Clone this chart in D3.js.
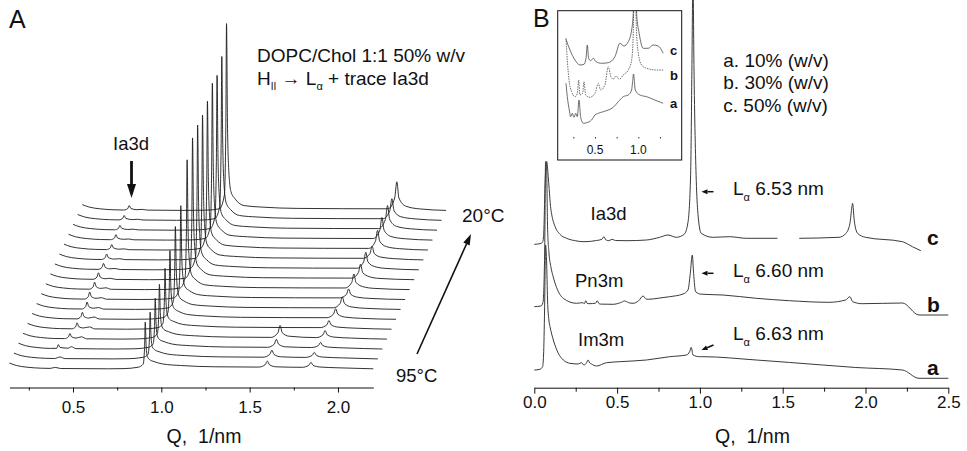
<!DOCTYPE html>
<html><head><meta charset="utf-8">
<script src="https://cdn.jsdelivr.net/npm/d3@7"></script>
<style>
html,body{margin:0;padding:0;background:#fff;}
svg{display:block;}
</style></head><body>
<svg id="chart" width="967" height="451"></svg>
<script>
// ---------------- DATA ----------------
// Panel A: stacked SAXS traces, bottom (95°C) to top (20°C); [Q (1/nm), intensity (a.u.)]
const tA00 = [[0.14,7],[0.18,4.5],[0.24,2.8],[0.32,1.8],[0.37,1.6],[0.40,2.6],[0.43,1.5],[0.70,1.2],[0.789,1.4],[0.869,2.8],[0.897,5.8],[0.905,21.6],[0.909,48],[0.914,24],[0.921,13.6],[0.934,10.4],[0.959,8.4],[1.009,6],[1.109,4.5],[1.309,3.2],[1.55,2.9],[1.588,5.3],[1.60,8.9],[1.612,5.3],[1.65,3.2],[1.797,2.7],[1.835,4.7],[1.847,7.7],[1.859,4.7],[1.897,3.0],[2.0,2.2],[2.2,1.2]];
const tA01 = [[0.14,7],[0.18,4.5],[0.24,2.8],[0.32,1.8],[0.37,1.6],[0.40,3.1],[0.43,1.5],[0.70,1.2],[0.791,1.4],[0.871,2.8],[0.899,5.8],[0.907,21.6],[0.911,48],[0.916,24],[0.923,13.6],[0.936,10.4],[0.961,8.4],[1.011,6],[1.111,4.5],[1.311,3.2],[1.55,2.9],[1.588,5.7],[1.60,9.9],[1.612,5.7],[1.65,3.3],[1.79,2.7],[1.828,4.7],[1.84,7.7],[1.852,4.7],[1.89,3.0],[2.0,2.2],[2.2,1.2]];
const tA02 = [[0.14,7],[0.18,4.5],[0.24,2.8],[0.32,1.8],[0.357,1.9],[0.365,5.6],[0.375,2.8],[0.42,2.0],[0.44,3.5],[0.465,1.6],[0.70,1.2],[0.794,1.4],[0.874,2.8],[0.902,6.2],[0.91,23.4],[0.914,52],[0.919,26],[0.926,14.4],[0.939,10.6],[0.964,8.6],[1.014,6],[1.114,4.5],[1.314,3.2],[1.55,2.9],[1.588,6.1],[1.60,10.9],[1.612,6.1],[1.65,3.4],[1.80,2.7],[1.838,4.7],[1.85,7.7],[1.862,4.7],[1.90,3.0],[2.0,2.2],[2.2,1.2]];
const tA03 = [[0.14,7],[0.18,4.5],[0.24,2.8],[0.32,1.8],[0.375,1.7],[0.397,3.4],[0.405,6.7],[0.415,3.4],[0.44,2.2],[0.47,3.5],[0.50,1.5],[0.70,1.2],[0.792,1.4],[0.872,2.8],[0.90,6.5],[0.908,25.2],[0.912,56],[0.917,28],[0.924,15.3],[0.937,10.9],[0.962,8.7],[1.012,6],[1.112,4.5],[1.312,3.2],[1.545,2.9],[1.583,7.7],[1.595,14.9],[1.607,7.7],[1.645,4.1],[1.80,2.7],[1.838,5.5],[1.85,9.7],[1.862,5.5],[1.90,3.2],[2.0,2.2],[2.2,1.2]];
const tA04 = [[0.14,7],[0.18,4.5],[0.24,2.8],[0.32,1.8],[0.39,1.6],[0.412,3.7],[0.42,7.6],[0.43,3.7],[0.455,2.4],[0.49,3.5],[0.52,1.5],[0.70,1.2],[0.798,1.4],[0.878,2.8],[0.906,7.0],[0.914,27.9],[0.918,62],[0.923,31],[0.93,16.6],[0.943,11.3],[0.968,8.9],[1.018,6],[1.118,4.5],[1.318,3.2],[1.796,2.8],[1.834,5.6],[1.846,9.8],[1.858,5.6],[1.896,3.3],[2.0,2.2],[2.2,1.2]];
const tA05 = [[0.14,7],[0.18,4.5],[0.24,2.8],[0.32,1.8],[0.394,1.6],[0.416,3.9],[0.424,8.1],[0.434,3.9],[0.46,2.4],[0.49,3.5],[0.52,1.5],[0.70,1.2],[0.80,1.4],[0.88,2.8],[0.908,7.6],[0.916,31.5],[0.92,70],[0.925,35],[0.932,18.4],[0.945,11.9],[0.97,9.1],[1.02,6],[1.12,4.5],[1.32,3.2],[1.808,2.8],[1.846,6.4],[1.858,11.8],[1.87,6.4],[1.908,3.5],[2.0,2.2],[2.2,1.2]];
const tA06 = [[0.14,7],[0.18,4.5],[0.24,2.8],[0.32,1.8],[0.395,1.6],[0.417,4.0],[0.425,8.6],[0.435,4.0],[0.46,2.4],[0.49,3.0],[0.52,1.5],[0.70,1.2],[0.805,1.4],[0.885,2.8],[0.913,8.7],[0.921,37.8],[0.925,84],[0.93,42],[0.937,21.5],[0.95,12.9],[0.975,9.5],[1.025,6],[1.125,4.5],[1.325,3.2],[1.82,2.8],[1.858,7.2],[1.87,13.8],[1.882,7.2],[1.92,3.7],[2.0,2.3],[2.2,1.2]];
const tA07 = [[0.14,7],[0.18,4.5],[0.24,2.8],[0.32,1.8],[0.384,1.6],[0.406,4.0],[0.414,8.6],[0.424,4.0],[0.45,2.4],[0.48,3.0],[0.51,1.5],[0.70,1.2],[0.81,1.4],[0.89,2.8],[0.918,9.6],[0.926,42.8],[0.93,95],[0.935,47.5],[0.942,23.9],[0.955,13.7],[0.98,9.9],[1.03,6],[1.13,4.5],[1.33,3.2],[1.83,2.8],[1.868,6.4],[1.88,11.8],[1.892,6.4],[1.93,3.5],[2.0,2.3],[2.2,1.2]];
const tA08 = [[0.14,7],[0.18,4.5],[0.24,2.8],[0.32,1.8],[0.386,1.6],[0.408,4.0],[0.416,8.6],[0.426,4.0],[0.45,2.4],[0.48,3.0],[0.51,1.5],[0.70,1.2],[0.82,1.4],[0.90,2.8],[0.928,12.5],[0.936,59],[0.94,131],[0.945,65.5],[0.952,31.8],[0.965,16.2],[0.99,10.9],[1.04,6],[1.14,4.5],[1.34,3.2],[1.834,2.8],[1.872,8.4],[1.884,16.8],[1.896,8.4],[1.934,4.2],[2.0,2.4],[2.2,1.2]];
const tA09 = [[0.14,7],[0.18,4.5],[0.24,2.8],[0.32,1.8],[0.382,1.6],[0.404,3.9],[0.412,8.1],[0.422,3.9],[0.45,2.2],[0.48,2.6],[0.51,1.5],[0.70,1.2],[0.825,1.4],[0.905,2.8],[0.933,13.4],[0.941,64.4],[0.945,143],[0.95,71.5],[0.957,34.5],[0.97,17],[0.995,11.3],[1.045,6],[1.145,4.5],[1.345,3.2],[1.846,2.8],[1.884,8.4],[1.896,16.8],[1.908,8.4],[1.946,4.2],[2.0,2.5],[2.2,1.2]];
const tA10 = [[0.14,7],[0.18,4.5],[0.24,2.8],[0.32,1.8],[0.385,1.6],[0.407,3.7],[0.415,7.6],[0.425,3.7],[0.45,2.2],[0.48,2.5],[0.51,1.5],[0.70,1.2],[0.828,1.4],[0.908,2.8],[0.936,13.7],[0.944,65.7],[0.948,146],[0.953,73],[0.96,35.1],[0.973,17.2],[0.998,11.4],[1.048,6],[1.148,4.5],[1.348,3.2],[1.85,2.8],[1.888,9.2],[1.90,18.8],[1.912,9.2],[1.95,4.4],[2.02,2.5],[2.2,1.2]];
const tA11 = [[0.14,7],[0.18,4.5],[0.24,2.8],[0.32,1.8],[0.377,1.6],[0.399,3.5],[0.407,7.1],[0.417,3.5],[0.45,2.0],[0.48,2.4],[0.51,1.5],[0.70,1.2],[0.83,1.4],[0.91,2.8],[0.938,13.7],[0.946,65.7],[0.95,146],[0.955,73],[0.962,35.1],[0.975,17.2],[1.0,11.4],[1.05,6],[1.15,4.5],[1.35,3.2],[1.86,2.8],[1.898,7.6],[1.91,14.8],[1.922,7.6],[1.96,4.0],[2.03,2.5],[2.2,1.2]];
const tA12 = [[0.14,7],[0.18,4.5],[0.24,2.8],[0.32,1.8],[0.38,1.6],[0.402,3.3],[0.41,6.6],[0.42,3.3],[0.45,2.0],[0.48,2.3],[0.51,1.5],[0.70,1.2],[0.832,1.4],[0.912,2.8],[0.94,14],[0.948,67.5],[0.952,150],[0.957,75],[0.964,36],[0.977,17.5],[1.002,11.5],[1.052,6],[1.152,4.5],[1.352,3.2],[1.865,2.8],[1.903,10],[1.915,20.8],[1.927,10],[1.965,4.6],[2.04,2.5],[2.2,1.2]];
const tA13 = [[0.14,7],[0.18,4.5],[0.24,2.8],[0.32,1.8],[0.378,1.6],[0.40,3.3],[0.408,6.6],[0.418,3.3],[0.45,2.0],[0.48,2.3],[0.51,1.5],[0.70,1.2],[0.834,1.4],[0.914,2.8],[0.942,14.6],[0.95,71.1],[0.954,158],[0.959,79],[0.966,37.8],[0.979,18.1],[1.004,11.7],[1.054,6],[1.154,4.5],[1.354,3.2],[1.864,2.8],[1.902,11.2],[1.914,23.8],[1.926,11.2],[1.964,4.9],[2.04,2.6],[2.2,1.2]];
const tA14 = [[0.14,7],[0.18,4.5],[0.24,2.8],[0.32,1.8],[0.375,1.6],[0.397,3.1],[0.405,6.1],[0.415,3.1],[0.45,1.9],[0.48,2.2],[0.51,1.5],[0.70,1.2],[0.835,1.4],[0.915,2.8],[0.943,14.5],[0.951,70.2],[0.955,156],[0.96,78],[0.967,37.3],[0.98,17.9],[1.005,11.7],[1.055,6],[1.155,4.5],[1.355,3.2],[1.87,2.8],[1.908,12],[1.92,25.8],[1.932,12],[1.97,5.1],[2.05,2.6],[2.2,1.2]];
const tA15 = [[0.14,7],[0.18,4.5],[0.24,2.8],[0.32,1.8],[0.373,1.6],[0.395,3.1],[0.403,6.1],[0.413,3.1],[0.45,1.9],[0.48,2.2],[0.51,1.5],[0.70,1.2],[0.836,1.4],[0.916,2.8],[0.944,15],[0.952,73.4],[0.956,165],[0.961,82.5],[0.968,38.9],[0.981,18.4],[1.006,11.9],[1.056,6],[1.156,4.5],[1.356,3.2],[1.869,2.8],[1.907,10.8],[1.919,22.8],[1.931,10.8],[1.969,4.8],[2.05,2.6],[2.2,1.2]];
const tA16 = [[0.14,7],[0.18,4.5],[0.24,2.8],[0.32,1.8],[0.376,1.6],[0.398,3.1],[0.406,6.1],[0.416,3.1],[0.45,1.9],[0.48,2.2],[0.51,1.5],[0.70,1.2],[0.837,1.4],[0.917,2.8],[0.945,16.8],[0.953,84],[0.957,188],[0.962,94],[0.969,44],[0.982,20],[1.007,12.4],[1.057,6],[1.157,4.5],[1.357,3.2],[1.871,2.8],[1.909,13.6],[1.921,29.8],[1.933,13.6],[1.971,5.5],[2.05,2.7],[2.2,1.2]];
const tracesA = [tA00,tA01,tA02,tA03,tA04,tA05,tA06,tA07,tA08,tA09,tA10,tA11,tA12,tA13,tA14,tA15,tA16];

// Panel B: three concentrations, intensity relative to each trace's start; null = gap in trace
const traceBa = [[0,0],[0.034,0.7],[0.05,3.3],[0.056,15],[0.062,60],[0.068,125],[0.074,110],[0.08,70],[0.088,50],[0.095,43.3],[0.115,30],[0.145,16.7],[0.175,10],[0.215,6.7],[0.265,6],[0.285,7.3],[0.30,5],[0.315,7],[0.325,10],[0.335,7],[0.345,6],[0.376,4],[0.436,7.3],[0.516,8.3],[0.677,10],[0.817,13.3],[0.918,15],[0.938,18.3],[0.948,22.7],[0.958,15],[0.998,13.3],[1.018,13.3],[1.34,10],[1.741,5],[1.942,2.5],[2.223,0],[2.323,-8.3],[2.5,-8.3]];
const traceBb = [[0,0],[0.04,0.7],[0.052,4],[0.058,20],[0.063,60],[0.068,145],[0.074,140],[0.08,80],[0.088,55],[0.10,40],[0.114,30],[0.135,19],[0.175,8.4],[0.255,3.4],[0.29,4],[0.303,3.2],[0.311,6],[0.318,3.5],[0.33,3],[0.37,3.5],[0.38,6],[0.39,3.2],[0.40,2.6],[0.476,2.4],[0.52,4],[0.546,5.7],[0.57,4],[0.596,3.4],[0.63,6],[0.657,10.7],[0.672,8],[0.687,7.4],[0.75,8.5],[0.817,10],[0.898,12.7],[0.928,16.7],[0.942,33.4],[0.954,51.7],[0.962,33.4],[0.974,15],[1.008,12.5],[1.139,11.7],[1.34,8.4],[1.54,6],[1.78,4.4],[1.88,6.7],[1.906,10],[1.922,5],[1.98,3],[2.223,3.7],[2.323,-8.3],[2.5,-8.3]];
const traceBc = [[0,0],[0.04,0.8],[0.052,3],[0.058,15],[0.064,55],[0.0747,83],[0.084,68],[0.09,55],[0.098,38],[0.105,30],[0.125,18],[0.155,10],[0.195,6],[0.25,3.5],[0.30,2.6],[0.376,3.8],[0.408,5],[0.42,7.6],[0.432,4.5],[0.45,3.6],[0.47,5],[0.49,3.8],[0.56,3.6],[0.677,4.3],[0.757,7],[0.807,9.3],[0.858,7],[0.905,10],[0.928,22],[0.944,70],[0.952,180],[0.958,270],[0.964,180],[0.978,64],[0.988,31],[1.008,11],[1.078,7],[1.179,7.6],[1.28,6],[1.468,6],[1.53,null],[1.60,6],[1.84,7],[1.882,11],[1.906,21],[1.918,37.6],[1.922,41],[1.932,24],[1.952,11],[2.0,7],[2.223,2.6],[2.283,-2.4],[2.334,-6.4]];

// Panel B inset
const insetA = [[0.165,76.7],[0.18,63.3],[0.203,50],[0.219,43.3],[0.238,46.7],[0.257,42.7],[0.277,46.7],[0.296,43.3],[0.315,60],[0.334,43.3],[0.365,36.7],[0.404,37.3],[0.461,40],[0.50,45],[0.538,46.7],[0.596,48.3],[0.653,50],[0.711,52.7],[0.769,58.3],[0.826,63.3],[0.884,65],[0.923,70],[0.934,78.3],[0.945,86],[0.965,70],[1.019,65],[1.096,63.3],[1.19,60],[1.287,56.7]];
const insetB = [[0.165,121.7],[0.18,100],[0.20,80],[0.23,68.3],[0.269,63.3],[0.296,66.7],[0.311,80],[0.326,65],[0.357,66.7],[0.373,78.3],[0.392,65],[0.442,62.7],[0.50,66.7],[0.538,76.7],[0.565,70],[0.615,75],[0.653,93.3],[0.684,83.3],[0.711,80.7],[0.742,84],[0.78,80.7],[0.826,85],[0.884,90],[0.923,100],[0.942,126.7],[0.955,200],[0.98,126.7],[1.0,106.7],[1.038,95],[1.096,91.7],[1.21,90],[1.287,90]];
const insetC = [[0.165,120.7],[0.211,110],[0.269,100],[0.326,95],[0.373,95.7],[0.396,101.7],[0.411,115],[0.426,101.7],[0.45,99.3],[0.48,101.7],[0.511,98.3],[0.577,96.7],[0.653,97.3],[0.73,103.3],[0.788,116.7],[0.834,114],[0.884,118.3],[0.923,130],[0.942,146.7],[0.955,200],[0.98,146.7],[1.01,126.7],[1.057,111.7],[1.114,111.7],[1.172,115],[1.23,114],[1.287,106.7]];

// ticks and labels
const ticksA = [0.5, 1.0, 1.5, 2.0];
const minorA = [0.25, 0.75, 1.25, 1.75];
const ticksB = [0, 0.5, 1.0, 1.5, 2.0, 2.5];
const minorB = [0.25, 0.75, 1.25, 1.75, 2.25];
const ticksInset = [0.25, 0.5, 0.75, 1.0, 1.25];
const labelsInset = [0.5, 1.0];
const legendB = ["a. 10% (w/v)", "b. 30% (w/v)", "c. 50% (w/v)"];
const phaseB = ["Im3m", "Pn3m", "Ia3d"];
const spacingB = ["6.63 nm", "6.60 nm", "6.53 nm"];
const seriesB = ["a", "b", "c"];

// ---------------- DRAWING ----------------
const FONT = '"Liberation Sans", Arial, Helvetica, sans-serif';
const svg = d3.select('#chart').attr('font-family', FONT);
const INK = '#111';

function txt(x, y, s, size, opts = {}) {
  const t = svg.append('text').attr('x', x).attr('y', y).attr('font-size', size)
    .attr('fill', INK).attr('text-anchor', opts.anchor || 'start').style('white-space', 'pre');
  if (opts.bold) t.attr('font-weight', 'bold');
  if (s !== null) t.text(s);
  return t;
}
function arrow(x1, y1, x2, y2, w, headL, headW) {
  const dx = x2 - x1, dy = y2 - y1, L = Math.hypot(dx, dy), ux = dx / L, uy = dy / L;
  const bx = x2 - ux * headL, by = y2 - uy * headL;
  svg.append('line').attr('x1', x1).attr('y1', y1).attr('x2', bx).attr('y2', by)
    .attr('stroke', INK).attr('stroke-width', w);
  svg.append('path').attr('d', `M${x2},${y2}L${bx - uy * headW / 2},${by + ux * headW / 2}L${bx + uy * headW / 2},${by - ux * headW / 2}Z`)
    .attr('fill', INK);
}

// ---- Panel A ----
const xA = d3.scaleLinear().domain([0.14, 2.2]).range([9.4, 373.3]);
const yA = d3.scaleLinear().domain([0, 200]).range([0, -200]);
const lineA = d3.line().x(d => xA(d[0])).y(d => yA(d[1])).curve(d3.curveMonotoneX);
const gA = svg.append('g');
tracesA.forEach((t, k) => {
  gA.append('path').attr('d', lineA(t))
    .attr('transform', `translate(${k * 4.55},${370 - k * 9.9})`)
    .attr('fill', 'none').attr('stroke', '#1c1c1c').attr('stroke-width', 0.9);
});
const axA = svg.append('g').attr('transform', 'translate(0,387.5)')
  .call(d3.axisBottom(xA).tickValues(ticksA).tickFormat(d3.format('.1f')).tickSize(5).tickSizeOuter(0));
axA.selectAll('text').attr('y', 25.5).attr('dy', 0).attr('font-size', 17).attr('font-family', FONT).attr('fill', INK);
axA.selectAll('line,path').attr('stroke', INK);
const axAm = svg.append('g').attr('transform', 'translate(0,387.5)')
  .call(d3.axisBottom(xA).tickValues(minorA).tickFormat('').tickSize(3));
axAm.select('.domain').remove();
axAm.selectAll('line').attr('stroke', INK);
txt(204, 443, 'Q,  1/nm', 19.5, { anchor: 'middle' });

txt(9, 28, 'A', 25);
txt(257, 62, 'DOPC/Chol 1:1 50% w/v', 19);
const t2 = txt(257, 85, null, 19);
t2.append('tspan').text('H');
t2.append('tspan').attr('font-size', 10).attr('dy', 5).text('II');
t2.append('tspan').attr('dy', -5).text(' \u2192 L');
t2.append('tspan').attr('font-size', 11).attr('dy', 5).text('\u03b1');
t2.append('tspan').attr('dy', -5).text(' + trace Ia3d');
txt(113, 150, 'Ia3d', 18.5);
arrow(131.5, 161, 131.5, 198, 2.8, 14, 9);
txt(462, 222, '20\u00b0C', 19);
txt(396, 382, '95\u00b0C', 18.5);
arrow(417, 354, 471, 234, 1.6, 11, 7);

// ---- Panel B ----
const xB = d3.scaleLinear().domain([0, 2.5]).range([534.3, 948.3]);
const yB = d3.scaleLinear().domain([0, 100]).range([0, -100]);
const lineB = d3.line().defined(d => d[1] !== null).x(d => xB(d[0])).y(d => yB(d[1])).curve(d3.curveMonotoneX);
const baseB = [370, 306.7, 244.3];
[traceBa, traceBb, traceBc].forEach((t, i) => {
  svg.append('path').attr('d', lineB(t)).attr('transform', `translate(0,${baseB[i]})`)
    .attr('fill', 'none').attr('stroke', '#3a3a3a').attr('stroke-width', 1);
});
const axB = svg.append('g').attr('transform', 'translate(0,387.7)')
  .call(d3.axisBottom(xB).tickValues(ticksB).tickFormat(d3.format('.1f')).tickSize(6).tickSizeOuter(0));
axB.selectAll('text').attr('y', 20.6).attr('dy', 0).attr('font-size', 17).attr('font-family', FONT).attr('fill', INK);
axB.selectAll('line,path').attr('stroke', INK);
const axBm = svg.append('g').attr('transform', 'translate(0,387.7)')
  .call(d3.axisBottom(xB).tickValues(minorB).tickFormat('').tickSize(4));
axBm.select('.domain').remove();
axBm.selectAll('line').attr('stroke', INK);
txt(752.5, 443, 'Q,  1/nm', 19.5, { anchor: 'middle' });

txt(533, 27, 'B', 25);
const legY = [66.7, 89, 111.7];
legendB.forEach((s, i) => txt(723.3, legY[i], s, 19));
const phaseX = [578, 575, 590.5], phaseY = [345.7, 286.7, 220];
phaseB.forEach((s, i) => txt(phaseX[i], phaseY[i], s, 18.5));
const lY = [340, 276.7, 195];
spacingB.forEach((s, i) => {
  const t = txt(733, lY[i], null, 19);
  t.append('tspan').text('L');
  t.append('tspan').attr('font-size', 11).attr('dy', 6).text('\u03b1');
  t.append('tspan').attr('dy', -6).text(' ' + s);
});
arrow(713.5, 191.7, 701.5, 191.7, 1.5, 6, 5);
arrow(713.5, 273.3, 701.5, 273.3, 1.5, 6, 5);
arrow(713.5, 345, 701.5, 350, 1.5, 6, 5);
const sY = [375, 311.7, 245];
seriesB.forEach((s, i) => txt(927, sY[i], s, 21, { bold: true }));

// ---- Inset ----
const box = { x: 557.7, y: 10.7, w: 124, h: 149.3 };
svg.append('rect').attr('x', box.x).attr('y', box.y).attr('width', box.w).attr('height', box.h).attr('fill', '#fff');
svg.append('clipPath').attr('id', 'inclip').append('rect').attr('x', box.x).attr('y', box.y).attr('width', box.w).attr('height', box.h);
const xIn = d3.scaleLinear().domain([0.5, 1.0]).range([595, 638.3]);
const yIn = d3.scaleLinear().domain([0, 150]).range([160, 10]);
const lineIn = d3.line().x(d => xIn(d[0])).y(d => yIn(d[1])).curve(d3.curveMonotoneX);
const gIn = svg.append('g').attr('clip-path', 'url(#inclip)');
[insetA, insetB, insetC].forEach((t, i) => {
  gIn.append('path').attr('d', lineIn(t)).attr('fill', 'none').attr('stroke', '#4a4a4a')
    .attr('stroke-width', 0.8).attr('stroke-dasharray', i === 1 ? '1.5,1' : null);
});
const axIn = svg.append('g').attr('transform', 'translate(0,138.5)')
  .call(d3.axisTop(xIn).tickValues(ticksInset).tickFormat('').tickSize(1.5));
axIn.select('.domain').remove();
axIn.selectAll('line').attr('stroke', '#333');
labelsInset.forEach(v => txt(xIn(v), 154, d3.format('.1f')(v), 12, { anchor: 'middle' }));
const inLabY = [108.3, 80, 55];
seriesB.forEach((s, i) => txt(670, inLabY[i], s, 13, { bold: true }));
svg.append('rect').attr('x', box.x).attr('y', box.y).attr('width', box.w).attr('height', box.h)
  .attr('fill', 'none').attr('stroke', INK).attr('stroke-width', 1);
</script></body></html>
